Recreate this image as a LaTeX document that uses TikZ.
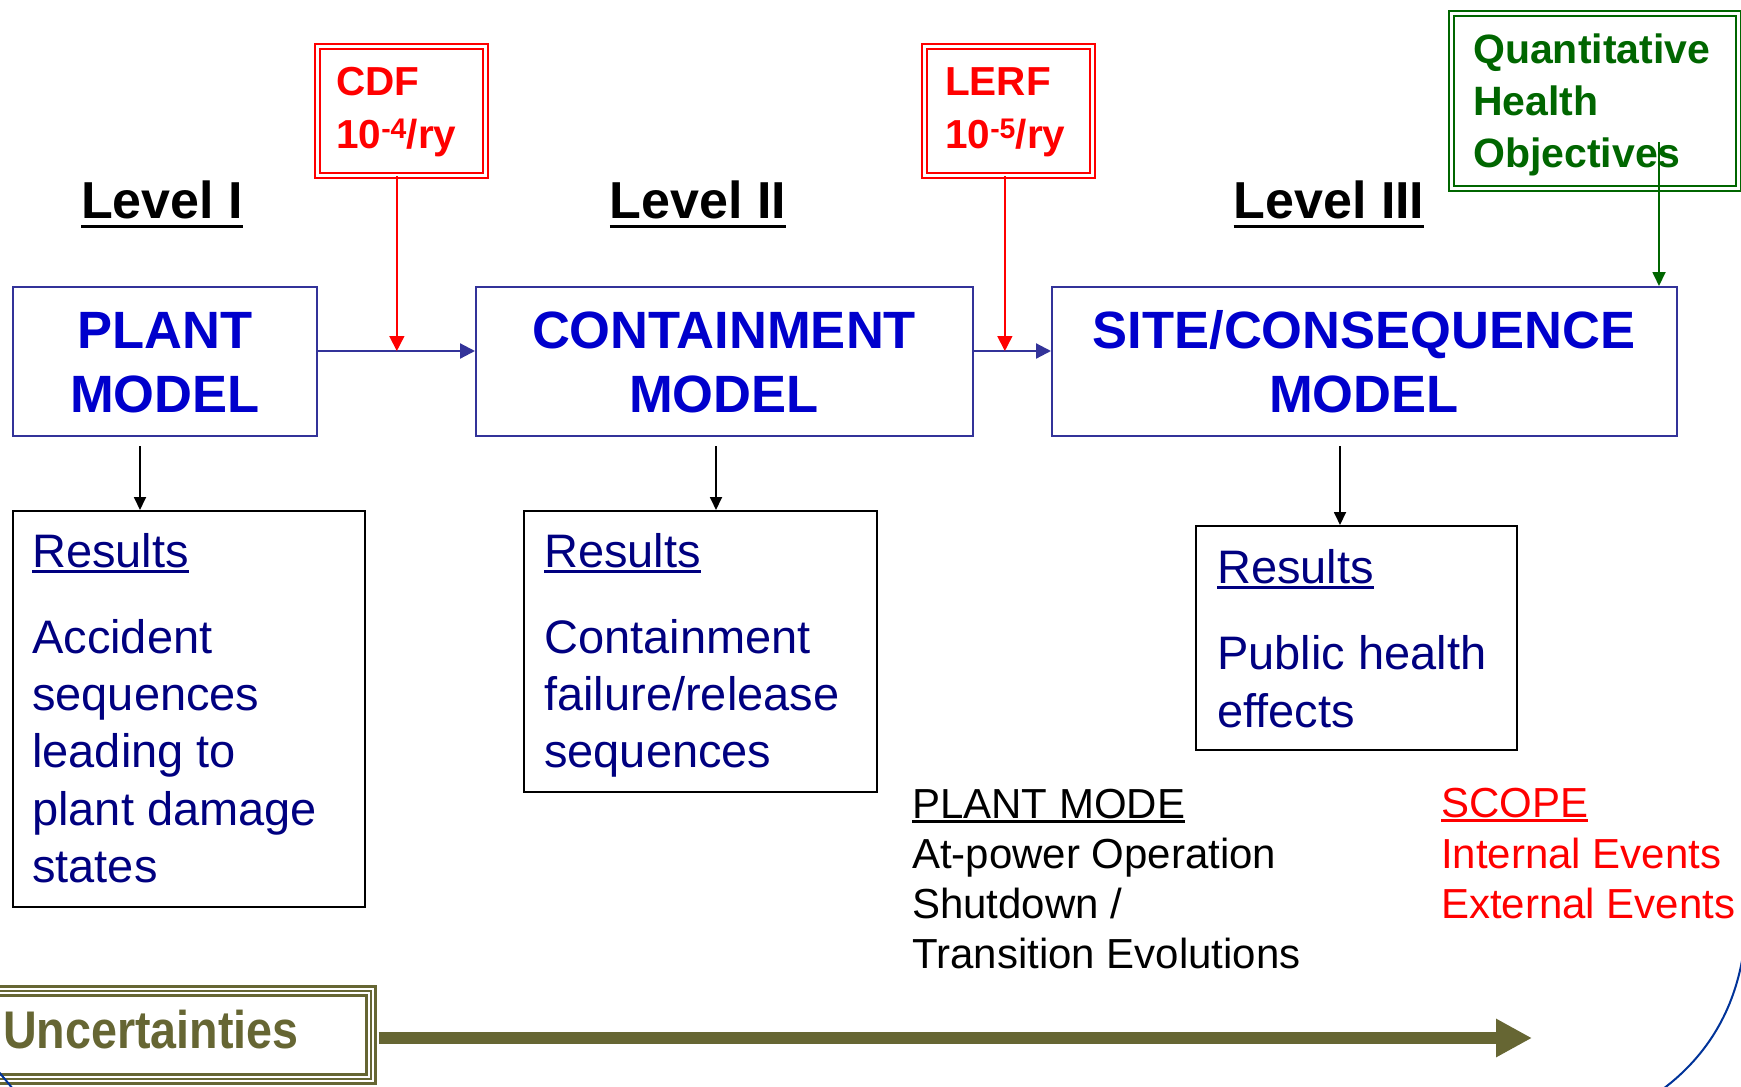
\documentclass[tikz,border=0pt]{standalone}
\usepackage{fontspec}
\setmainfont{Liberation Sans}
\usetikzlibrary{arrows.meta}
\definecolor{boxblue}{RGB}{51,51,153}
\definecolor{txtblue}{RGB}{0,0,204}
\definecolor{navyc}{RGB}{0,0,128}
\definecolor{qgreen}{RGB}{0,102,0}
\definecolor{olivec}{RGB}{102,102,51}
\definecolor{arcblue}{RGB}{0,51,153}
\newsavebox\ulbox
\newcommand\myul[3]{\sbox\ulbox{#3}\rlap{\rule[#1]{\wd\ulbox}{#2}}\usebox\ulbox}
\tikzset{
  lbl/.style={inner sep=0pt, anchor=base west},
  ctr/.style={inner sep=0pt, anchor=base},
  levelfont/.style={font=\fontsize{52pt}{60pt}\selectfont\bfseries},
  modelfont/.style={font=\fontsize{52.5pt}{60pt}\selectfont\bfseries, text=txtblue},
  limitfont/.style={font=\fontsize{40.5pt}{48pt}\selectfont\bfseries, text=red},
  qhofont/.style={font=\fontsize{41pt}{48pt}\selectfont\bfseries, text=qgreen},
  resfont/.style={font=\fontsize{47pt}{56pt}\selectfont, text=navyc},
  modefont/.style={font=\fontsize{42pt}{50pt}\selectfont},
  modelbox/.style={draw=boxblue, line width=2pt, inner sep=0pt, anchor=north west},
  resbox/.style={draw=black, line width=2pt, inner sep=0pt, anchor=north west},
  limitbox/.style={draw=red, line width=1.7pt, double=white, double distance=3.3pt, inner sep=0pt, anchor=north west},
  flow/.style={draw=boxblue, line width=2.2pt, -{Triangle[length=15pt,width=15pt]}},
  redarr/.style={draw=red, line width=1.6pt, -{Triangle[length=15pt,width=15pt]}},
  blackarr/.style={draw=black, line width=1.8pt, -{Triangle[length=13pt,width=12pt]}},
  greenarr/.style={draw=qgreen, line width=1.8pt, -{Triangle[length=14pt,width=13pt]}},
}
\begin{document}
\begin{tikzpicture}[x=1pt, y=-1pt]
\useasboundingbox (0,0) rectangle (1741,1087);
\fill[white] (0,0) rectangle (1741,1087);

% Level headings
\node[ctr, levelfont] (lv1) at (162,218) {\myul{-10pt}{3.5pt}{Level I}};
\node[ctr, levelfont] (lv2) at (698,218) {\myul{-10pt}{3.5pt}{Level II}};
\node[ctr, levelfont] (lv3) at (1329,218) {\myul{-10pt}{3.5pt}{Level III}};

% Limit boxes
\node[limitbox, minimum width=168pt, minimum height=129pt] (cdf) at (316.5,45.5) {};
\node[lbl, limitfont] (cdf1) at (336,95) {CDF};
\node[lbl, limitfont] (cdf2) at (336,148) {10\textsuperscript{-4}/ry};
\node[limitbox, minimum width=168pt, minimum height=129pt] (lerf) at (923.5,45.5) {};
\node[lbl, limitfont] (lerf1) at (945,95) {LERF};
\node[lbl, limitfont] (lerf2) at (945,148) {10\textsuperscript{-5}/ry};
\node[limitbox, draw=qgreen, minimum width=287pt, minimum height=175pt] (qho) at (1450.5,12.5) {};
\node[lbl, qhofont] (qho1) at (1473,63) {Quantitative};
\node[lbl, qhofont] (qho2) at (1473,115) {Health};
\node[lbl, qhofont] (qho3) at (1473,167) {Objectives};

% Model boxes
\node[modelbox, minimum width=304pt, minimum height=149pt] (pm) at (12,286) {};
\node[ctr, modelfont] (pm1) at (165,348) {PLANT};
\node[ctr, modelfont] (pm2) at (165,412) {MODEL};
\node[modelbox, minimum width=497pt, minimum height=149pt] (cm) at (475,286) {};
\node[ctr, modelfont] (cm1) at (724,348) {CONTAINMENT};
\node[ctr, modelfont] (cm2) at (724,412) {MODEL};
\node[modelbox, minimum width=625pt, minimum height=149pt] (sm) at (1051,286) {};
\node[ctr, modelfont] (sm1) at (1364,348) {SITE/CONSEQUENCE};
\node[ctr, modelfont] (sm2) at (1364,412) {MODEL};

% Flow connectors
\coordinate (pmo) at ([yshift=10.5pt]pm.east);
\coordinate (cmi) at ([yshift=10.5pt]cm.west);
\coordinate (cmo) at ([yshift=10.5pt]cm.east);
\coordinate (smi) at ([yshift=10.5pt]sm.west);
\coordinate (cdfo) at ([xshift=-4.5pt]cdf.south);
\coordinate (lerfo) at ([xshift=-3.5pt]lerf.south);
\draw[flow] (pmo) -- (cmi);
\draw[flow] (cmo) -- (smi);
\draw[redarr] (cdfo) -- (cdfo |- pmo);
\draw[redarr] (lerfo) -- (lerfo |- cmo);
\coordinate (qstart) at (1659,142);
\draw[greenarr] (qstart) -- (qstart |- sm.north);

% Results boxes
\node[resbox, minimum width=352pt, minimum height=396pt] (r1) at (12,510) {};
\node[resbox, minimum width=353pt, minimum height=281pt] (r2) at (523,510) {};
\node[resbox, minimum width=321pt, minimum height=224pt] (r3) at (1195,525) {};
\coordinate (d1) at (140,446);
\coordinate (d2) at (716,446);
\coordinate (d3) at (1340,446);
\draw[blackarr] (d1) -- (d1 |- r1.north);
\draw[blackarr] (d2) -- (d2 |- r2.north);
\draw[blackarr] (d3) -- (d3 |- r3.north);

\node[lbl, resfont] (r1h) at (32,567) {\myul{-5.5pt}{2.5pt}{Results}};
\node[lbl, resfont] (r1a) at (32,653) {Accident};
\node[lbl, resfont] (r1b) at (32,710) {sequences};
\node[lbl, resfont] (r1c) at (32,767) {leading to};
\node[lbl, resfont] (r1d) at (32,825) {plant damage};
\node[lbl, resfont] (r1e) at (32,882) {states};

\node[lbl, resfont] (r2h) at (544,567) {\myul{-5.5pt}{2.5pt}{Results}};
\node[lbl, resfont] (r2a) at (544,653) {Containment};
\node[lbl, resfont] (r2b) at (544,710) {failure/release};
\node[lbl, resfont] (r2c) at (544,767) {sequences};

\node[lbl, resfont] (r3h) at (1217,583) {\myul{-5.5pt}{2.5pt}{Results}};
\node[lbl, resfont] (r3a) at (1217,669) {Public health};
\node[lbl, resfont] (r3b) at (1217,727) {effects};

% Plant mode / scope
\node[lbl, modefont] (pmd0) at (912,818) {\myul{-5pt}{3pt}{PLANT MODE}};
\node[lbl, modefont] (pmd1) at (912,868.5) {At-power Operation};
\node[lbl, modefont] (pmd2) at (912,918.5) {Shutdown /};
\node[lbl, modefont] (pmd3) at (912,968.5) {Transition Evolutions};
\node[lbl, modefont, text=red] (sc0) at (1441,817) {\myul{-5pt}{3pt}{SCOPE}};
\node[lbl, modefont, text=red] (sc1) at (1441,868) {Internal Events};
\node[lbl, modefont, text=red] (sc2) at (1441,918) {External Events};

% Uncertainties
\node[draw=olivec, line width=3pt, double=white, double distance=6pt, inner sep=0pt, outer sep=0pt,
      minimum width=381pt, minimum height=88pt, anchor=north west] (unc) at (-10,991) {};
\draw[olivec, line width=1.2pt] (unc.south west) rectangle (unc.north east);
\node[lbl, font=\fontsize{53pt}{60pt}\selectfont\bfseries, text=olivec] (unct) at (3,1048) {\scalebox{0.88}[1]{Uncertainties}};
\coordinate (uncst) at ([xshift=7.5pt,yshift=-3pt]unc.east);
\coordinate (uncend) at (1532,1038);
\draw[olivec, line width=12pt, -{Triangle[length=36pt,width=36pt]}] (uncst) -- (uncend);

% Partial blue arc
\draw[arcblue, line width=2pt] (1743,955) .. controls (1734,1010) and (1708,1055) .. (1663,1089);
\draw[arcblue, line width=2pt] (-2,1071) .. controls (4,1078) .. (13,1089);
\end{tikzpicture}
\end{document}
